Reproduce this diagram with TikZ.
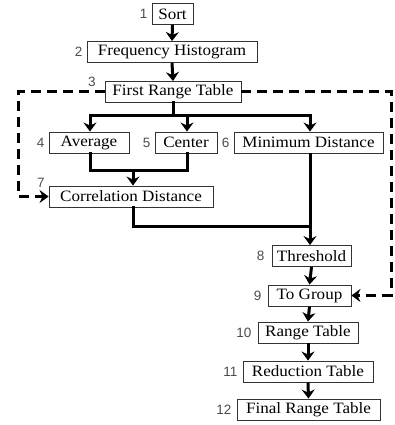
\documentclass[tikz,border=0pt]{standalone}
\usepackage{fontspec}
\setmainfont{Liberation Serif}[FakeStretch=1.08]
\newfontfamily\labfont{Liberation Sans}
\usetikzlibrary{arrows.meta,calc}
\begin{document}
\begin{tikzpicture}[x=1pt,y=-1pt,
  box/.style={draw=black!80,line width=0.9pt,minimum height=21pt,inner sep=0pt,font=\fontsize{15.8}{18}\selectfont,fill=white},
  num/.style={font=\labfont\fontsize{13.5}{15}\selectfont,text=black!70,inner sep=0pt},
  conn/.style={line width=3pt,line cap=rect},
  arr/.style={line width=3pt,-{Stealth[length=9pt,width=13pt,inset=3pt]}},
  dashline/.style={line width=3pt,dash pattern=on 10pt off 6pt}]
\useasboundingbox (0,0) rectangle (395,425);
% boxes
\node[box,minimum width=41pt] (n1) at (172.5,14) {Sort};
\node[box,minimum width=170pt] (n2) at (172,52) {Frequency Histogram};
\node[box,minimum width=136pt] (n3) at (173,92) {First Range Table};
\node[box,minimum width=80pt] (n4) at (89,142.5) {Average};
\node[box,minimum width=62pt] (n5) at (186,142.5) {Center};
\node[box,minimum width=149pt] (n6) at (308.5,142.5) {Minimum Distance};
\node[box,minimum width=164pt] (n7) at (131,196.5) {Correlation Distance};
\node[box,minimum width=79pt] (n8) at (311.5,256) {Threshold};
\node[box,minimum width=83pt] (n9) at (309.5,295.5) {To Group};
\node[box,minimum width=100pt] (n10) at (308,332.5) {Range Table};
\node[box,minimum width=130pt] (n11) at (308,371.5) {Reduction Table};
\node[box,minimum width=143pt] (n12) at (308.5,409.5) {Final Range Table};
% numbers
\node[num,anchor=east] (l1) at ($(n1.west)+(-4,0)$) {1};
\node[num,anchor=east] (l2) at ($(n2.west)+(-4,0)$) {2};
\node[num] (l3) at (92,82) {3};
\node[num,anchor=east] (l4) at ($(n4.west)+(-4,0)$) {4};
\node[num,anchor=east] (l5) at ($(n5.west)+(-4,0)$) {5};
\node[num,anchor=east] (l6) at ($(n6.west)+(-4,0)$) {6};
\node[num] (l7) at (41,183) {7};
\node[num,anchor=east] (l8) at ($(n8.west)+(-7,0)$) {8};
\node[num,anchor=east] (l9) at ($(n9.west)+(-6,0)$) {9};
\node[num,anchor=east] (l10) at ($(n10.west)+(-6,0)$) {10};
\node[num,anchor=east] (l11) at ($(n11.west)+(-5,0)$) {11};
\node[num,anchor=east] (l12) at ($(n12.west)+(-5,0)$) {12};
% coordinates
\coordinate (s3) at (173,115);
\coordinate (h4) at (90,115);
\coordinate (h5) at (187,115);
\coordinate (h6) at (310,115);
\coordinate (j4) at (90,170);
\coordinate (j5) at (187,170);
\coordinate (j7) at (133,170);
\coordinate (k7) at (133,226);
\coordinate (k6) at (310,226);
\coordinate (dl) at (18,92);
\coordinate (dr) at (391,92);
% solid connectors
\draw[arr] (n1.south) -- (n2.north);
\draw[arr] (n2.south) -- (n3.north);
\draw[conn] (n3.south) -- (s3);
\draw[conn] (h4) -- (h6);
\draw[arr] (h4) -- (h4|-n4.north);
\draw[arr] (h5) -- (h5|-n5.north);
\draw[arr] (h6) -- (h6|-n6.north);
\draw[conn] (j4|-n4.south) -- (j4) -- (j5) -- (j5|-n5.south);
\draw[arr] (j7) -- (j7|-n7.north);
\draw[conn] (k7|-n7.south) -- (k7) -- (k6);
\draw[arr] (h6|-n6.south) -- (h6|-n8.north);
\draw[arr] (n8.south) -- (n9.north);
\draw[arr] (n9.south) -- (n10.north);
\draw[arr] (n10.south) -- (n11.north);
\draw[arr] (n11.south) -- (n12.north);
% dashed feedback
\draw[dashline,-{Stealth[length=9pt,width=13pt,inset=3pt]}] (n3.west) -- (dl) -- (dl|-n7.west) -- (n7.west);
\draw[dashline,-{Stealth[length=9pt,width=13pt,inset=3pt]}] (n3.east) -- (dr) -- (dr|-n9.east) -- (n9.east);
\end{tikzpicture}
\end{document}
